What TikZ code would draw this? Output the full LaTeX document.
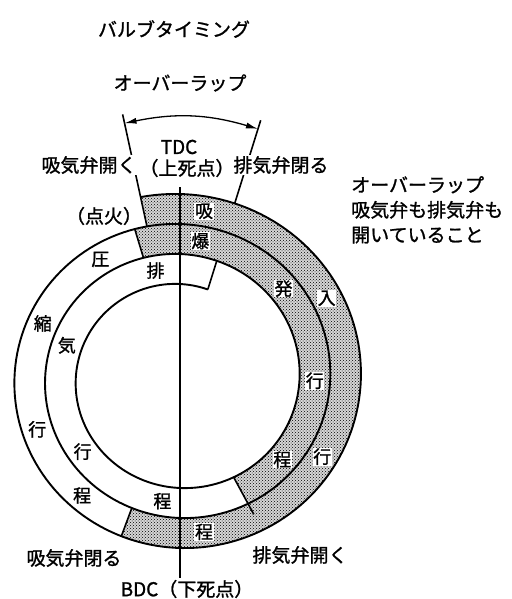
\documentclass[tikz,border=0pt]{standalone}
\usepackage{fontspec}
\setmainfont{Noto Sans CJK JP}[FakeBold=1.2]
\usetikzlibrary{patterns,arrows.meta}
\begin{document}
\begin{tikzpicture}[x=1pt,y=-1pt,
  declare function={rr(\t)=184.5-\t/12; px(\t,\r)=180+1.022*\r*sin(\t); py(\t,\r)=378.5-\r*cos(\t);},
  curve/.style={line width=1.9pt},
  radial/.style={line width=1.6pt},
  tick/.style={line width=1.3pt},
  shadebg/.style={fill=black!16},
  shade/.style={pattern=crosshatch dots},
  ring/.style={font=\fontsize{18}{18}\selectfont, fill=white, inner sep=0.6pt},
  lab/.style={font=\fontsize{19}{19}\selectfont},
  halo/.style={fill=white, inner sep=1pt}
]
\useasboundingbox (0,0) rectangle (511,599);

% shaded strokes
\fill[shadebg] plot[domain=-12:200,samples=120,variable=\t] ({px(\t,rr(\t))},{py(\t,rr(\t))})
  -- plot[domain=560:348,samples=120,variable=\t] ({px(\t,rr(\t))},{py(\t,rr(\t))}) -- cycle;
\fill[shadebg] plot[domain=343.5:512,samples=120,variable=\t] ({px(\t,rr(\t))},{py(\t,rr(\t))})
  -- plot[domain=872:703.5,samples=120,variable=\t] ({px(\t,rr(\t))},{py(\t,rr(\t))}) -- cycle;
\fill[shade] plot[domain=-12:200,samples=120,variable=\t] ({px(\t,rr(\t))},{py(\t,rr(\t))})
  -- plot[domain=560:348,samples=120,variable=\t] ({px(\t,rr(\t))},{py(\t,rr(\t))}) -- cycle;
\fill[shade] plot[domain=343.5:512,samples=120,variable=\t] ({px(\t,rr(\t))},{py(\t,rr(\t))})
  -- plot[domain=872:703.5,samples=120,variable=\t] ({px(\t,rr(\t))},{py(\t,rr(\t))}) -- cycle;

% spiral
\draw[curve] plot[domain=-12:1097,samples=500,variable=\t] ({px(\t,rr(\t))},{py(\t,rr(\t))});

% radial boundaries
\coordinate (ivoB) at ({px(-12,rr(348))},{py(-12,rr(348))});
\coordinate (ivoT) at ({px(-12,270)},{py(-12,270)});
\coordinate (ivcA) at ({px(200,rr(200))},{py(200,rr(200))});
\coordinate (ivcB) at ({px(200,rr(560))},{py(200,rr(560))});
\coordinate (ignA) at ({px(343.5,rr(343.5))},{py(343.5,rr(343.5))});
\coordinate (ignB) at ({px(343.5,rr(703.5))},{py(343.5,rr(703.5))});
\coordinate (evoA) at ({px(152,rr(512)+12)},{py(152,rr(512)+12)});
\coordinate (evoB) at ({px(152,rr(872))},{py(152,rr(872))});
\coordinate (evcA) at ({px(17,rr(737))},{py(17,rr(737))});
\coordinate (evcB) at ({px(17,rr(1097))},{py(17,rr(1097))});
\coordinate (evcO) at ({px(17,rr(17))},{py(17,rr(17))});
\coordinate (evcT) at ({px(17,270)},{py(17,270)});
\draw[radial] (ivoB) -- (ivoT);
\draw[radial] (ivcA) -- (ivcB);
\draw[radial] (ignA) -- (ignB);
\draw[radial] (evoA) -- (evoB);
\draw[radial] (evcA) -- (evcB);
\draw[radial] (evcO) -- (evcT);

% overlap arrow
\coordinate (arL) at ({px(-12,261)},{py(-12,261)});
\coordinate (arR) at ({px(17,261)},{py(17,261)});
\draw[tick,{Latex[length=12pt,width=6pt]}-{Latex[length=12pt,width=6pt]}] (arL) to[bend left=14] (arR);

% TDC-BDC line
\coordinate (vT) at (180,187);
\coordinate (vB) at (180,578);
\draw[tick] (vT) -- (vB);

% outer labels
\node[lab] (title) at (174,29) {バルブタイミング};
\node[lab] (ovl) at (180,83) {オーバーラップ};
\node[lab] (tdc) at (179,147) {TDC};
\node[lab] (tdcj) at (187,168) {（上死点）};
\node[lab,halo] (ivo) at (89,165) {吸気弁開く};
\node[lab,halo] (evc) at (281,165) {排気弁閉る};
\node[lab] (ign) at (104,216) {（点火）};
\node[font=\fontsize{19}{25}\selectfont,align=left,anchor=north west,inner sep=0pt] (note) at (351,176) {オーバーラップ\\吸気弁も排気弁も\\開いていること};
\node[lab] (ivc) at (74,558) {吸気弁閉る};
\node[lab] (evo) at (300,555) {排気弁開く};
\node[lab] (bdc) at (187,589) {BDC（下死点）};

% ring labels
\node[ring] (s1) at ({px(8,rr(8)-15)},{py(8,rr(8)-15)}) {吸};
\node[ring] (s2) at ({px(60.8,rr(60.8)-15)},{py(60.8,rr(60.8)-15)}) {入};
\node[ring] (s3) at ({px(119.3,rr(119.3)-15)},{py(119.3,rr(119.3)-15)}) {行};
\node[ring] (s4) at ({px(171.3,rr(171.3)-15)},{py(171.3,rr(171.3)-15)}) {程};
\node[ring] (c1) at ({px(326.8,rr(326.8)-15)},{py(326.8,rr(326.8)-15)}) {圧};
\node[ring] (c2) at ({px(292.3,rr(292.3)-15)},{py(292.3,rr(292.3)-15)}) {縮};
\node[ring] (c3) at ({px(250,rr(250)-15)},{py(250,rr(250)-15)}) {行};
\node[ring] (c4) at ({px(219.3,rr(219.3)-15)},{py(219.3,rr(219.3)-15)}) {程};
\node[ring] (p1) at ({px(8.2,rr(368.2)-15)},{py(8.2,rr(368.2)-15)}) {爆};
\node[ring] (p2) at ({px(48.4,rr(408.4)-15)},{py(48.4,rr(408.4)-15)}) {発};
\node[ring] (p3) at ({px(91,rr(451)-15)},{py(91,rr(451)-15)}) {行};
\node[ring] (p4) at ({px(129,rr(489)-15)},{py(129,rr(489)-15)}) {程};
\node[ring] (e1) at ({px(-12.5,rr(707.5)-15)},{py(-12.5,rr(707.5)-15)}) {排};
\node[ring] (e2) at ({px(286.7,rr(646.7)-15)},{py(286.7,rr(646.7)-15)}) {気};
\node[ring] (e3) at ({px(232.5,rr(592.5)-15)},{py(232.5,rr(592.5)-15)}) {行};
\node[ring] (e4) at ({px(188,rr(548)-15)},{py(188,rr(548)-15)}) {程};
\end{tikzpicture}
\end{document}
